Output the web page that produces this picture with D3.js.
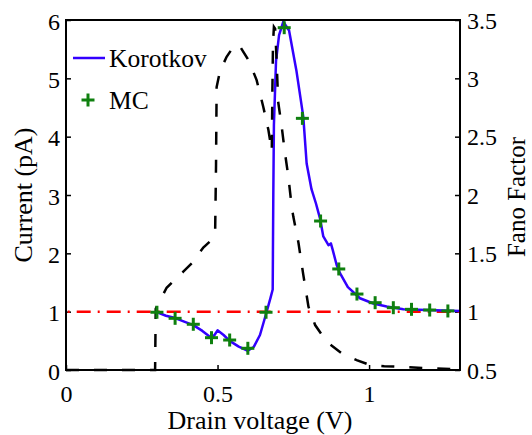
<!DOCTYPE html>
<html>
<head>
<meta charset="utf-8">
<script src="https://cdn.jsdelivr.net/npm/d3@7"></script>
</head>
<body style="margin:0; background:#fff">
<div id="chart"></div>
<script>
// Korotkov theory, current (pA) vs drain voltage (V)
const korotkovV = [0.305, 0.33, 0.36, 0.39, 0.42, 0.45, 0.48, 0.49, 0.50, 0.52, 0.54, 0.57, 0.60, 0.62, 0.64, 0.66, 0.675, 0.682,
  0.684, 0.686, 0.693, 0.703, 0.717, 0.736, 0.76, 0.783, 0.794, 0.81, 0.825, 0.838, 0.849, 0.866, 0.874, 0.88, 0.893, 0.904,
  0.93, 0.97, 1.014, 1.058, 1.113, 1.19, 1.30];
const korotkovI = [0.98, 0.93, 0.89, 0.83, 0.77, 0.67, 0.55, 0.60, 0.68, 0.60, 0.50, 0.40, 0.33, 0.40, 0.60, 0.96, 1.24, 1.38,
  3.0, 4.2, 5.3, 5.74, 5.97, 5.82, 5.14, 4.34, 3.54, 3.1, 2.85, 2.6, 2.29, 2.14, 2.17, 2.06, 1.80, 1.66,
  1.42, 1.23, 1.14, 1.09, 1.04, 1.03, 1.01];

// Monte Carlo points
const mcV = [0.30, 0.36, 0.42, 0.48, 0.54, 0.60, 0.66, 0.72, 0.78, 0.84, 0.90, 0.96, 1.02, 1.08, 1.14, 1.20, 1.26];
const mcI = [0.99, 0.886, 0.784, 0.554, 0.514, 0.372, 0.99, 5.868, 4.314, 2.554, 1.732, 1.302, 1.154, 1.068, 1.04, 1.028, 1.012];

// Fano factor (right axis), black dashed
const fanoV = [0, 0.294, 0.296, 0.332, 0.387, 0.415, 0.453, 0.481, 0.492, 0.495, 0.497, 0.508, 0.53, 0.555, 0.568, 0.575,
  0.60, 0.615, 0.629, 0.651, 0.668, 0.679, 0.681, 0.683, 0.686, 0.69, 0.695, 0.70, 0.711, 0.722, 0.733, 0.745, 0.75,
  0.767, 0.783, 0.80, 0.822, 0.845, 0.866, 0.91, 0.959, 1.003, 1.05, 1.10, 1.20, 1.30];
const fanoF = [0.5, 0.5, 1.025, 1.205, 1.343, 1.415, 1.55, 1.615, 1.665, 2.25, 2.925, 3.06, 3.185, 3.28, 3.29, 3.27,
  3.165, 3.075, 2.985, 2.755, 2.555, 2.375, 2.9, 3.3, 3.44, 3.425, 3.15, 2.8, 2.6, 2.37, 2.17, 1.895, 1.815,
  1.59, 1.315, 1.043, 0.885, 0.80, 0.729, 0.643, 0.585, 0.543, 0.533, 0.528, 0.515, 0.505];

const poissonFano = 1;

const xTicks = [0, 0.5, 1];
const yLeftTicks = [0, 1, 2, 3, 4, 5, 6];
const yRightTicks = [0.5, 1, 1.5, 2, 2.5, 3, 3.5];

const width = 532;
const height = 435;
const plot = { left: 66, right: 460, top: 20, bottom: 370 };
const font = "Liberation Serif";

const svg = d3.select("#chart")
  .append("svg")
  .attr("width", width)
  .attr("height", height);

const x = d3.scaleLinear().domain([0, 1.3]).range([plot.left, plot.right]);
const yL = d3.scaleLinear().domain([0, 6]).range([plot.bottom, plot.top]);
const yR = d3.scaleLinear().domain([0.5, 3.5]).range([plot.bottom, plot.top]);

const fmt = d3.format("~g");

// axes (ticks point inward)
const xAxis = svg.append("g")
  .attr("transform", `translate(0, ${plot.bottom})`)
  .call(d3.axisBottom(x).tickValues(xTicks).tickFormat(fmt).tickSize(-5).tickSizeOuter(0));
xAxis.selectAll("text").attr("y", 32).attr("dy", null);

const yLeftAxis = svg.append("g")
  .attr("transform", `translate(${plot.left}, 0)`)
  .call(d3.axisLeft(yL).tickValues(yLeftTicks).tickFormat(fmt).tickSize(-5).tickSizeOuter(0));
yLeftAxis.selectAll("text").attr("x", -6).attr("dy", 9);

const yRightAxis = svg.append("g")
  .attr("transform", `translate(${plot.right}, 0)`)
  .call(d3.axisRight(yR).tickValues(yRightTicks).tickFormat(fmt).tickSize(-5).tickSizeOuter(0));
yRightAxis.selectAll("text").attr("x", 7).attr("dy", 8);

svg.selectAll(".domain").remove();
svg.selectAll(".tick line").attr("stroke", "#000").attr("stroke-width", 1.5);
svg.selectAll(".tick text").attr("fill", "#000").attr("font-size", 24);

// data lines
const fanoLine = d3.line()
  .x((d, i) => x(fanoV[i]))
  .y((d) => yR(d));

const currentLine = d3.line()
  .x((d, i) => x(korotkovV[i]))
  .y((d) => yL(d));

svg.append("line")
  .attr("x1", plot.left)
  .attr("x2", plot.right)
  .attr("y1", yR(poissonFano))
  .attr("y2", yR(poissonFano))
  .attr("stroke", "#ff0000")
  .attr("stroke-width", 2.5)
  .attr("stroke-dasharray", "14,7,2,7")
  .attr("stroke-dashoffset", 19.3);

svg.append("path")
  .datum(korotkovI)
  .attr("d", currentLine)
  .attr("fill", "none")
  .attr("stroke", "#3300ff")
  .attr("stroke-width", 2.5)
  .attr("stroke-linejoin", "round");

svg.append("path")
  .datum(fanoF)
  .attr("d", fanoLine)
  .attr("fill", "none")
  .attr("stroke", "#000")
  .attr("stroke-width", 2.5)
  .attr("stroke-dasharray", "13,15");

const plus = (g, cx, cy, r) => {
  g.append("line").attr("x1", cx - r).attr("x2", cx + r).attr("y1", cy).attr("y2", cy);
  g.append("line").attr("x1", cx).attr("x2", cx).attr("y1", cy - r).attr("y2", cy + r);
};

const marks = svg.append("g")
  .attr("stroke", "#0f800f")
  .attr("stroke-width", 3);
mcV.forEach((v, i) => plus(marks, x(v), yL(mcI[i]), 6.5));

// box
svg.append("rect")
  .attr("x", plot.left)
  .attr("y", plot.top)
  .attr("width", plot.right - plot.left)
  .attr("height", plot.bottom - plot.top)
  .attr("fill", "none")
  .attr("stroke", "#000")
  .attr("stroke-width", 2);

// axis labels
svg.append("text")
  .attr("x", 260)
  .attr("y", 429)
  .attr("text-anchor", "middle")
  .attr("font-size", 26)
  .text("Drain voltage (V)");

svg.append("text")
  .attr("transform", `translate(32, ${(plot.top + plot.bottom) / 2}) rotate(-90)`)
  .attr("text-anchor", "middle")
  .attr("font-size", 26)
  .text("Current (pA)");

svg.append("text")
  .attr("transform", `translate(525, ${(plot.top + plot.bottom) / 2 + 2}) rotate(-90)`)
  .attr("text-anchor", "middle")
  .attr("font-size", 25)
  .text("Fano Factor");

// legend
const legend = svg.append("g");
legend.append("line")
  .attr("x1", 73).attr("x2", 105)
  .attr("y1", 58).attr("y2", 58)
  .attr("stroke", "#3300ff")
  .attr("stroke-width", 2.5);
legend.append("text")
  .attr("x", 109).attr("y", 66.5)
  .attr("font-size", 25.5)
  .text("Korotkov");
const legendMark = legend.append("g").attr("stroke", "#0f800f").attr("stroke-width", 3);
plus(legendMark, 88, 100, 6.5);
legend.append("text")
  .attr("x", 109).attr("y", 109)
  .attr("font-size", 25.5)
  .text("MC");

// every text element gets the serif face directly
svg.selectAll("text").attr("font-family", font);
</script>
</body>
</html>
